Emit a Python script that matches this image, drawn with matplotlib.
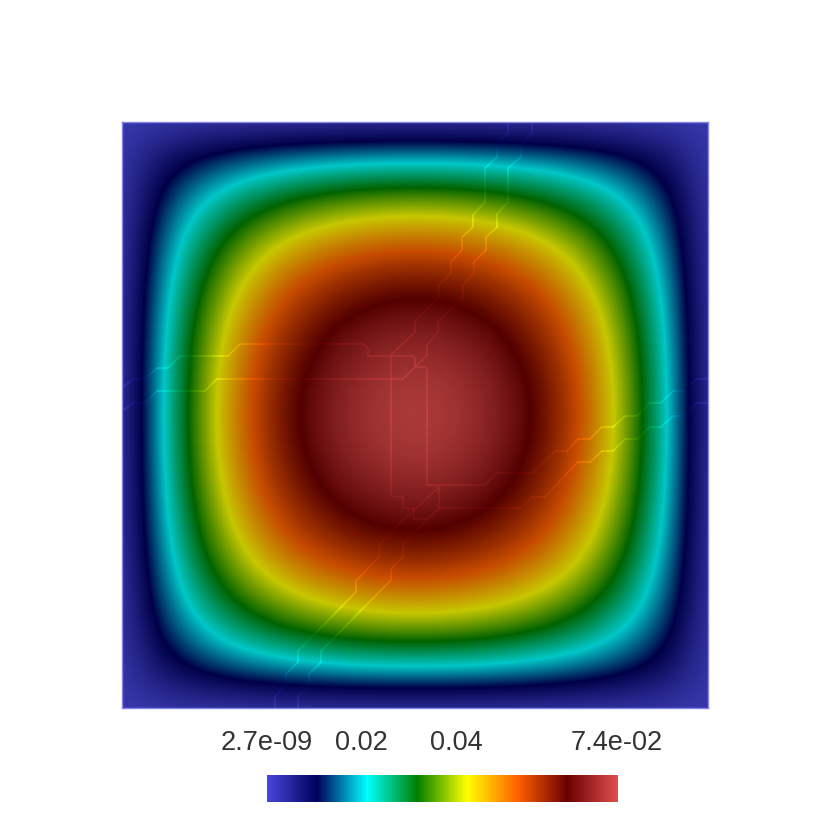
import matplotlib
matplotlib.use("Agg")
import matplotlib.pyplot as plt
from matplotlib.collections import LineCollection
from matplotlib.colors import LinearSegmentedColormap, Normalize
from matplotlib.cm import ScalarMappable
import numpy as np

# field values on one quarter of the square, read on a 1/16 grid (wall to centre)
quarter = [
    [0, 0, 0, 0, 0, 0, 0, 0, 0],
    [0, .00632, .01053, .01354, .01574, .01733, .01840, .01902, .01922],
    [0, .01053, .01822, .02396, .02819, .03125, .03334, .03454, .03493],
    [0, .01354, .02396, .03191, .03788, .04225, .04522, .04695, .04752],
    [0, .01574, .02819, .03788, .04542, .05072, .05447, .05662, .05733],
    [0, .01733, .03125, .04225, .05072, .05699, .06104, .06382, .06466],
    [0, .01840, .03334, .04522, .05447, .06104, .06604, .06881, .06972],
    [0, .01902, .03454, .04695, .05662, .06382, .06881, .07173, .07269],
    [0, .01922, .03493, .04752, .05733, .06466, .06972, .07269, .07367],
]
vmin = 2.7e-09
vmax = 0.0737
tick_values = [2.7e-09, 0.02, 0.04, 0.074]
tick_labels = ["2.7e-09", "0.02", "0.04", "7.4e-02"]

cmap_colors = [(.278, .278, .858), (0, 0, .36), (0, 1, 1), (0, .5, 0),
               (1, 1, 0), (1, .38, 0), (.42, 0, 0), (.878, .301, .301)]

# crack paths, in picture pixels
paths = [
    [(508,123),(508,133),(497,145),(497,157),(485,168),(485,202),(473,215),(473,227),(462,237),(462,250),(451,262),(451,273),(439,285),(439,297),(415,322),(415,332),(391,355)],
    [(532,123),(532,133),(521,145),(521,157),(508,168),(508,202),(497,214),(497,227),(486,237),(486,250),(474,262),(474,273),(463,285),(463,298),(438,322),(438,332),(427,345),(427,355),(415,367)],
    [(123,387),(133,379),(145,379),(157,368),(168,368),(180,356),(228,356),(240,344),(363,344),(368,349),(368,356),(413,356),(415,358),(415,367),(425,367),(427,370),(427,485),(485,485),(497,473),(533,473),(555,451),(567,451),(578,439),(590,439),(602,427),(613,427),(625,416),(637,416),(650,403),(661,403),(673,391),(685,391),(696,379),(707,379)],
    [(123,410),(133,403),(145,403),(157,391),(205,391),(217,379),(403,379),(415,367)],
    [(391,355),(391,496),(403,497),(403,508),(414,508),(414,519),(427,519),(439,508),(520,508),(532,497),(545,497),(578,462),(590,462),(602,451),(613,451),(625,439),(637,439),(650,427),(661,427),(673,416),(685,416),(696,403),(707,403)],
    [(439,487),(439,508),(420,527),(403,544),(403,557),(391,569),(391,580),(321,651),(321,662),(309,674),(309,685),(298,697),(298,708)],
    [(439,487),(403,520),(379,545),(379,557),(356,581),(356,592),(298,651),(298,662),(286,674),(286,685),(275,697),(275,708)],
]

q = np.array(quarter)
half = np.hstack([q, q[:, -2::-1]])
field = np.vstack([half, half[-2::-1]])
n = field.shape[0]

full_cmap = LinearSegmentedColormap.from_list("rainbow_desat", cmap_colors, N=512)
shaded_cmap = LinearSegmentedColormap.from_list(
    "rainbow_shaded", [tuple(0.78 * c for c in col) for col in cmap_colors], N=512)
norm = Normalize(vmin, vmax)


def field_at(x, y):
    fx = np.clip(x, 0, 1) * (n - 1)
    fy = np.clip(y, 0, 1) * (n - 1)
    i = np.minimum(fx.astype(int), n - 2)
    j = np.minimum(fy.astype(int), n - 2)
    tx = fx - i
    ty = fy - j
    return (field[j, i] * (1 - tx) * (1 - ty) + field[j, i + 1] * tx * (1 - ty)
            + field[j + 1, i] * (1 - tx) * ty + field[j + 1, i + 1] * tx * ty)


fig = plt.figure(figsize=(8.3, 8.3), dpi=100)
ax = fig.add_axes([122 / 830, 1 - 708 / 830, 586 / 830, 586 / 830])
half_cell = 0.5 / (n - 1)
ax.imshow(field, origin="lower", cmap=shaded_cmap, norm=norm, interpolation="bicubic",
          extent=(-half_cell, 1 + half_cell, -half_cell, 1 + half_cell))
ax.set_xlim(0, 1)
ax.set_ylim(0, 1)
ax.set_xticks([])
ax.set_yticks([])
for spine in ax.spines.values():
    spine.set_color("#8585ea")
    spine.set_linewidth(1.0)

# lines take the unshaded colour of the field underneath
for path in paths:
    p = np.array(path, dtype=float)
    px = (p[:, 0] - 122) / 586
    py = (708 - p[:, 1]) / 586
    dist = np.r_[0, np.cumsum(np.hypot(np.diff(px), np.diff(py)))]
    s = np.unique(np.r_[dist, np.arange(0, dist[-1], 0.004)])
    x = np.interp(s, dist, px)
    y = np.interp(s, dist, py)
    pts = np.column_stack([x, y])
    segs = np.stack([pts[:-1], pts[1:]], axis=1)
    lc = LineCollection(segs, cmap=full_cmap, norm=norm, linewidths=1.2, alpha=0.45,
                        capstyle="round")
    lc.set_array(field_at((x[:-1] + x[1:]) / 2, (y[:-1] + y[1:]) / 2))
    ax.add_collection(lc)

cax = fig.add_axes([267 / 830, 1 - 802 / 830, 350.5 / 830, 27 / 830])
bar_norm = Normalize(vmin, 0.0741)
cb = fig.colorbar(ScalarMappable(norm=bar_norm, cmap=full_cmap), cax=cax, orientation="horizontal")
cb.outline.set_visible(False)
cb.set_ticks(tick_values)
cb.set_ticklabels(tick_labels)
cax.xaxis.set_ticks_position("top")
cax.tick_params(axis="x", length=0, pad=14, labelsize=19.5, labelcolor="#333333")
for label in cax.get_xticklabels():
    label.set_fontfamily("Liberation Sans")
cax.minorticks_off()

fig.savefig("out.png", dpi=100)
